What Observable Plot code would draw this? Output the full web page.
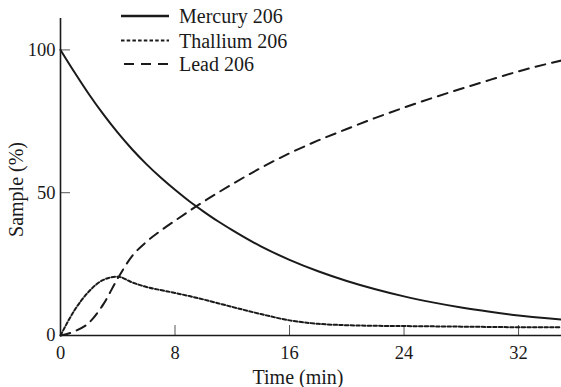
<!DOCTYPE html>
<html>
<head>
<meta charset="utf-8">
<script src="https://cdn.jsdelivr.net/npm/d3@7"></script>
<script src="https://cdn.jsdelivr.net/npm/@observablehq/plot@0.6"></script>
<style>
  body { margin: 0; background: #fff; }
  #wrap { position: relative; width: 561px; height: 387px; }
  #legend { position: absolute; left: 0; top: 0; }
</style>
</head>
<body>
<div id="wrap"></div>
<script>
// Time (min)
const time = [0, 1, 2, 3, 4, 5, 6, 7, 8, 9, 10, 11, 12, 14, 16, 18, 20, 22, 24, 26, 28, 30, 32, 34, 35];
// Sample (%)
const mercury  = [100, 92, 84.4, 77.4, 71, 65.2, 60, 55.3, 51, 47, 43.4, 40, 36.9, 31.2, 26.5, 22.5, 19.1, 16.2, 13.7, 11.6, 9.8, 8.3, 7, 6, 5.6];
const thallium = [0, 9, 15.5, 19.5, 20.6, 18.6, 17, 15.9, 14.9, 13.8, 12.6, 11.3, 10, 7.5, 5.3, 4.1, 3.6, 3.4, 3.3, 3.2, 3.1, 3, 2.9, 2.9, 2.9];
const lead     = [0, 1.5, 4.5, 11, 20, 27.8, 32.8, 36.7, 40.2, 43.6, 46.9, 50, 53, 58.7, 63.8, 68.3, 72.3, 76.2, 79.8, 83.2, 86.4, 89.5, 92.5, 95.1, 96.3];

const seriesNames = ["Mercury 206", "Thallium 206", "Lead 206"];
const seriesValues = [mercury, thallium, lead];
const xTicks = [0, 8, 16, 24, 32];
const yTicks = [0, 50, 100];
const xLabel = "Time (min)";
const yLabel = "Sample (%)";

const dashes = {"Mercury 206": null, "Thallium 206": "3.5,2.2", "Lead 206": "10,7"};

const rows = seriesNames.flatMap((name, i) =>
  time.map((t, j) => ({series: name, time: t, value: seriesValues[i][j]})));

const font = "'Liberation Serif', 'Times New Roman', Times, serif";

const chart = Plot.plot({
  width: 561,
  height: 387,
  marginLeft: 60,
  marginRight: 0,
  marginTop: 18,
  marginBottom: 52,
  style: {fontFamily: font, fontSize: "18.5px", color: "#1a1a1a", background: "#fff"},
  x: {domain: [0, 35]},
  y: {domain: [0, 111]},
  marks: [
    Plot.axisX({ticks: xTicks, tickSize: -10, tickPadding: 20, label: null, tickFormat: d => String(d), stroke: "#555"}),
    Plot.axisY({ticks: yTicks, tickSize: -10, tickPadding: 15, label: null, tickFormat: d => String(d), stroke: "#555"}),
    Plot.ruleX([0], {stroke: "#1a1a1a", strokeWidth: 1.6}),
    Plot.ruleY([0], {stroke: "#1a1a1a", strokeWidth: 1.6}),
    ...seriesNames.map(name =>
      Plot.line(rows.filter(d => d.series === name), {
        x: "time", y: "value", curve: "monotone-x",
        stroke: "#1a1a1a", strokeWidth: 2,
        strokeDasharray: dashes[name]
      })),
    Plot.text([xLabel], {text: d => d, frameAnchor: "bottom", textAnchor: "middle", lineAnchor: "middle", dx: -13, dy: 42, fontSize: 20, fill: "#1a1a1a"}),
    Plot.text([yLabel], {text: d => d, frameAnchor: "left", textAnchor: "middle", lineAnchor: "middle", rotate: -90, dx: -43.5, dy: 12.5, fontSize: 20, fill: "#1a1a1a"})
  ]
});

const wrap = document.getElementById("wrap");
wrap.appendChild(chart);

// Legend overlay
const leg = d3.select(wrap).append("svg")
  .attr("id", "legend")
  .attr("width", 561).attr("height", 80)
  .style("font-family", font);
const rowY = [16, 40.5, 64];
seriesNames.forEach((name, i) => {
  const g = leg.append("g").attr("transform", `translate(0,${rowY[i]})`);
  g.append("line").attr("x1", name === "Lead 206" ? 124 : 121).attr("x2", 169)
    .attr("y1", 0).attr("y2", 0)
    .attr("stroke", "#1a1a1a")
    .attr("stroke-width", name === "Mercury 206" ? 2.6 : 2.2)
    .attr("stroke-dasharray", dashes[name]);
  g.append("text").attr("x", 179).attr("y", 0).attr("dy", "0.36em")
    .attr("font-size", 20).attr("font-family", font).attr("fill", "#1a1a1a").text(name);
});
</script>
</body>
</html>
